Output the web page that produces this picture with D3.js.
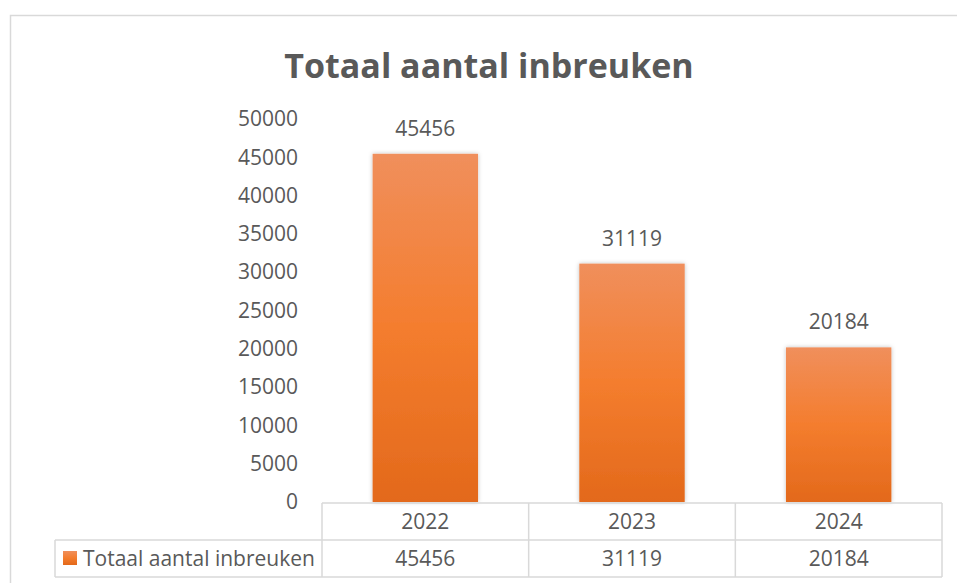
<!DOCTYPE html>
<html>
<head>
<meta charset="utf-8">
<script src="https://cdn.jsdelivr.net/npm/d3@7"></script>
<style>
  body { margin: 0; background: #fff; }
  text { font-family: 'Open Sans', sans-serif; fill: #595959; }
</style>
</head>
<body>
<div id="chart"></div>
<script>
const title = 'Totaal aantal inbreuken';
const seriesName = 'Totaal aantal inbreuken';
const years = ['2022', '2023', '2024'];
const values = [45456, 31119, 20184];
const yTicks = [0, 5000, 10000, 15000, 20000, 25000, 30000, 35000, 40000, 45000, 50000];

const width = 957;
const height = 583;
const plot = { left: 322, right: 942, top: 119, bottom: 503 };
const rowH = 37;
const gridColor = '#d9d9d9';
const fontSize = '21px';

const svg = d3
  .select('#chart')
  .append('svg')
  .attr('width', width)
  .attr('height', height);

// Gradient for bars
const defs = svg.append('defs');
const grad = defs
  .append('linearGradient')
  .attr('id', 'barGrad')
  .attr('x1', 0)
  .attr('y1', 0)
  .attr('x2', 0)
  .attr('y2', 1);
grad.append('stop').attr('offset', '0%').attr('stop-color', '#f08f5c');
grad.append('stop').attr('offset', '50%').attr('stop-color', '#f47d2e');
grad.append('stop').attr('offset', '100%').attr('stop-color', '#e3691b');

const shadow = defs
  .append('filter')
  .attr('id', 'shadow')
  .attr('x', '-10%')
  .attr('y', '-10%')
  .attr('width', '120%')
  .attr('height', '120%');
shadow
  .append('feDropShadow')
  .attr('dx', 0)
  .attr('dy', 0)
  .attr('stdDeviation', 2)
  .attr('flood-color', '#000')
  .attr('flood-opacity', 0.25);

// Chart border (extends past the window on right and bottom)
svg
  .append('rect')
  .attr('x', 10.5)
  .attr('y', 15.5)
  .attr('width', 960)
  .attr('height', 600)
  .attr('fill', 'none')
  .attr('stroke', gridColor)
  .attr('stroke-width', 1.5);

// Title
svg
  .append('text')
  .attr('x', 489)
  .attr('y', 78)
  .attr('text-anchor', 'middle')
  .style('font-size', '34px')
  .style('font-weight', 'bold')
  .text(title);

// Scales
const x = d3
  .scaleBand()
  .domain(years)
  .range([plot.left, plot.right])
  .paddingInner(0.49)
  .paddingOuter(0.245);
const y = d3.scaleLinear().domain([0, 50000]).range([plot.bottom - 1, plot.top]);

// Y axis labels
const yAxis = svg
  .append('g')
  .attr('transform', 'translate(298,0)')
  .call(
    d3.axisLeft(y).tickValues(yTicks).tickFormat(d3.format('d')).tickSize(0).tickPadding(0)
  );
yAxis.select('.domain').remove();
yAxis
  .selectAll('text')
  .style('font-size', fontSize)
  .style('font-family', "'Open Sans', sans-serif")
  .attr('fill', '#595959');

// Bars
svg
  .selectAll('rect.bar')
  .data(values)
  .enter()
  .append('rect')
  .attr('class', 'bar')
  .attr('x', (d, i) => x(years[i]))
  .attr('y', (d) => y(d))
  .attr('width', x.bandwidth())
  .attr('height', (d) => y(0) - y(d))
  .attr('fill', 'url(#barGrad)')
  .attr('filter', 'url(#shadow)');

// Data labels
svg
  .selectAll('text.label')
  .data(values)
  .enter()
  .append('text')
  .attr('class', 'label')
  .attr('x', (d, i) => x(years[i]) + x.bandwidth() / 2)
  .attr('y', (d) => y(d) - 18)
  .attr('text-anchor', 'middle')
  .style('font-size', fontSize)
  .text((d) => d);

// Data table
const colEdges = years.map((d) => x(d) - x.step() * x.paddingInner() / 2);
colEdges[0] = plot.left;
colEdges.push(plot.right);
const table = svg
  .append('g')
  .attr('stroke', gridColor)
  .attr('stroke-width', 1.5)
  .attr('fill', 'none');
const rowTop = plot.bottom;
const rowMid = rowTop + rowH;
const rowBot = rowMid + rowH;

table.append('line').attr('x1', plot.left).attr('x2', plot.right).attr('y1', rowTop).attr('y2', rowTop);
table.append('line').attr('x1', 55).attr('x2', plot.right).attr('y1', rowMid).attr('y2', rowMid);
table.append('line').attr('x1', 55).attr('x2', plot.right).attr('y1', rowBot).attr('y2', rowBot);
table.append('line').attr('x1', 55).attr('x2', 55).attr('y1', rowMid).attr('y2', rowBot);
table
  .selectAll('line.col')
  .data(colEdges)
  .enter()
  .append('line')
  .attr('class', 'col')
  .attr('x1', (d) => d)
  .attr('x2', (d) => d)
  .attr('y1', rowTop)
  .attr('y2', rowBot);

svg
  .selectAll('text.year')
  .data(years)
  .enter()
  .append('text')
  .attr('class', 'year')
  .attr('x', (d) => x(d) + x.bandwidth() / 2)
  .attr('y', rowTop + 26)
  .attr('text-anchor', 'middle')
  .style('font-size', fontSize)
  .text((d) => d);

svg
  .selectAll('text.val')
  .data(values)
  .enter()
  .append('text')
  .attr('class', 'val')
  .attr('x', (d, i) => x(years[i]) + x.bandwidth() / 2)
  .attr('y', rowMid + 26)
  .attr('text-anchor', 'middle')
  .style('font-size', fontSize)
  .text((d) => d);

// Legend key
svg
  .append('rect')
  .attr('x', 63)
  .attr('y', rowMid + 11)
  .attr('width', 14)
  .attr('height', 14)
  .attr('fill', 'url(#barGrad)');
svg
  .append('text')
  .attr('x', 83)
  .attr('y', rowMid + 26)
  .style('font-size', fontSize)
  .text(seriesName);
</script>
</body>
</html>
